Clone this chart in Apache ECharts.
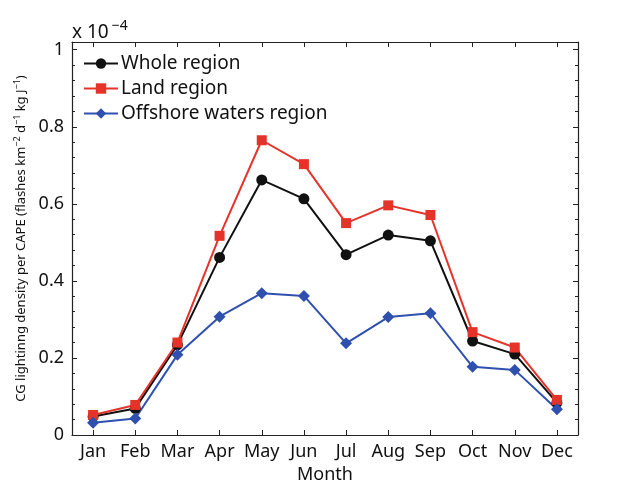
<!DOCTYPE html>
<html>
<head>
<meta charset="utf-8">
<script src="https://cdn.jsdelivr.net/npm/echarts@6/dist/echarts.min.js"></script>
<style>
  html, body { margin: 0; padding: 0; background: #fff; }
  #chart { width: 624px; height: 485px; }
</style>
</head>
<body>
<div id="chart"></div>
<script>
// Monthly CG lightning density per CAPE (values in units of 1e-4)
const months = ['Jan', 'Feb', 'Mar', 'Apr', 'May', 'Jun', 'Jul', 'Aug', 'Sep', 'Oct', 'Nov', 'Dec'];
const wholeRegion = [0.048, 0.069, 0.234, 0.461, 0.662, 0.613, 0.468, 0.519, 0.504, 0.244, 0.210, 0.084];
const landRegion = [0.052, 0.078, 0.240, 0.517, 0.765, 0.703, 0.550, 0.596, 0.571, 0.267, 0.227, 0.091];
const offshoreRegion = [0.032, 0.043, 0.208, 0.307, 0.368, 0.361, 0.238, 0.306, 0.316, 0.177, 0.169, 0.067];
const yTicks = [0, 0.2, 0.4, 0.6, 0.8, 1];

const FONT = '"Noto Sans", sans-serif';
const chart = echarts.init(document.getElementById('chart'));

const tickLabel = v => {
  const hit = yTicks.find(t => Math.abs(t - v) < 1e-6);
  return hit === undefined ? '' : String(hit);
};

const yCommon = {
  type: 'value', min: 0, max: 1.02, interval: 0.2,
  axisLine: { show: true, lineStyle: { color: '#222', width: 1.2 } },
  axisTick: { show: true, inside: true, length: 5, lineStyle: { color: '#222' } },
  minorTick: { show: true, splitNumber: 5, length: 3, lineStyle: { color: '#222' } },
  splitLine: { show: false }
};

const xCommon = {
  type: 'category', data: months, boundaryGap: true,
  axisLine: { show: true, onZero: false, lineStyle: { color: '#222', width: 1.2 } },
  axisTick: { show: true, inside: true, alignWithLabel: true, interval: 0, length: 5, lineStyle: { color: '#222' } },
  splitLine: { show: false }
};

function makeSeries(name, data, color, symbol, size) {
  return {
    name, type: 'line', data,
    xAxisIndex: 0, yAxisIndex: 0,
    symbol, symbolSize: size,
    lineStyle: { color, width: 2 },
    itemStyle: { color },
    emphasis: { disabled: true },
    animation: false
  };
}

chart.setOption({
  animation: false,
  grid: { left: 72, right: 46, top: 42, bottom: 50, containLabel: false, outerBoundsMode: 'none' },
  xAxis: [
    Object.assign({}, xCommon, {
      position: 'bottom',
      axisLabel: { color: '#111', fontSize: 18, fontFamily: FONT, margin: 8, interval: 0 },
      name: 'Month', nameLocation: 'middle', nameGap: 30,
      nameTextStyle: { color: '#111', fontSize: 18, fontFamily: FONT }
    }),
    Object.assign({}, xCommon, { position: 'top', axisLabel: { show: false } })
  ],
  yAxis: [
    Object.assign({}, yCommon, {
      position: 'left',
      axisLabel: { color: '#111', fontSize: 18, fontFamily: FONT, margin: 8, formatter: tickLabel, showMaxLabel: false },
      name: '{t|CG lightinng density per CAPE (flashes km}{s|−2}{t| d}{s|−1}{t| kg J}{s|−1}{t|)}',
      nameLocation: 'middle', nameGap: 40, nameRotate: 90,
      nameTextStyle: {
        rich: {
          t: { fontSize: 13, fontFamily: FONT, color: '#111' },
          s: { fontSize: 9, fontFamily: FONT, color: '#111', verticalAlign: 'top', padding: [0, 0, 8, 0] }
        }
      }
    }),
    Object.assign({}, yCommon, { position: 'right', axisLabel: { show: false } })
  ],
  legend: {
    orient: 'vertical', left: 83, top: 54, padding: 0,
    itemWidth: 34, itemHeight: 13, itemGap: 6,
    textStyle: { color: '#111', fontSize: 19, fontFamily: FONT, padding: [0, 0, 0, -2] },
    data: ['Whole region', 'Land region', 'Offshore waters region']
  },
  graphic: [{
    type: 'text', left: 72, top: 19,
    style: {
      text: '{b|x 10}{s|−4}',
      rich: {
        b: { fontSize: 19, fontFamily: FONT, fill: '#111' },
        s: { fontSize: 14, fontFamily: FONT, fill: '#111', verticalAlign: 'top', padding: [0, 0, 14, 3] }
      }
    }
  }],
  series: [
    makeSeries('Whole region', wholeRegion, '#111111', 'circle', 11),
    makeSeries('Land region', landRegion, '#e5332a', 'rect', 10),
    makeSeries('Offshore waters region', offshoreRegion, '#3050b0', 'diamond', 12)
  ]
});
</script>
</body>
</html>
